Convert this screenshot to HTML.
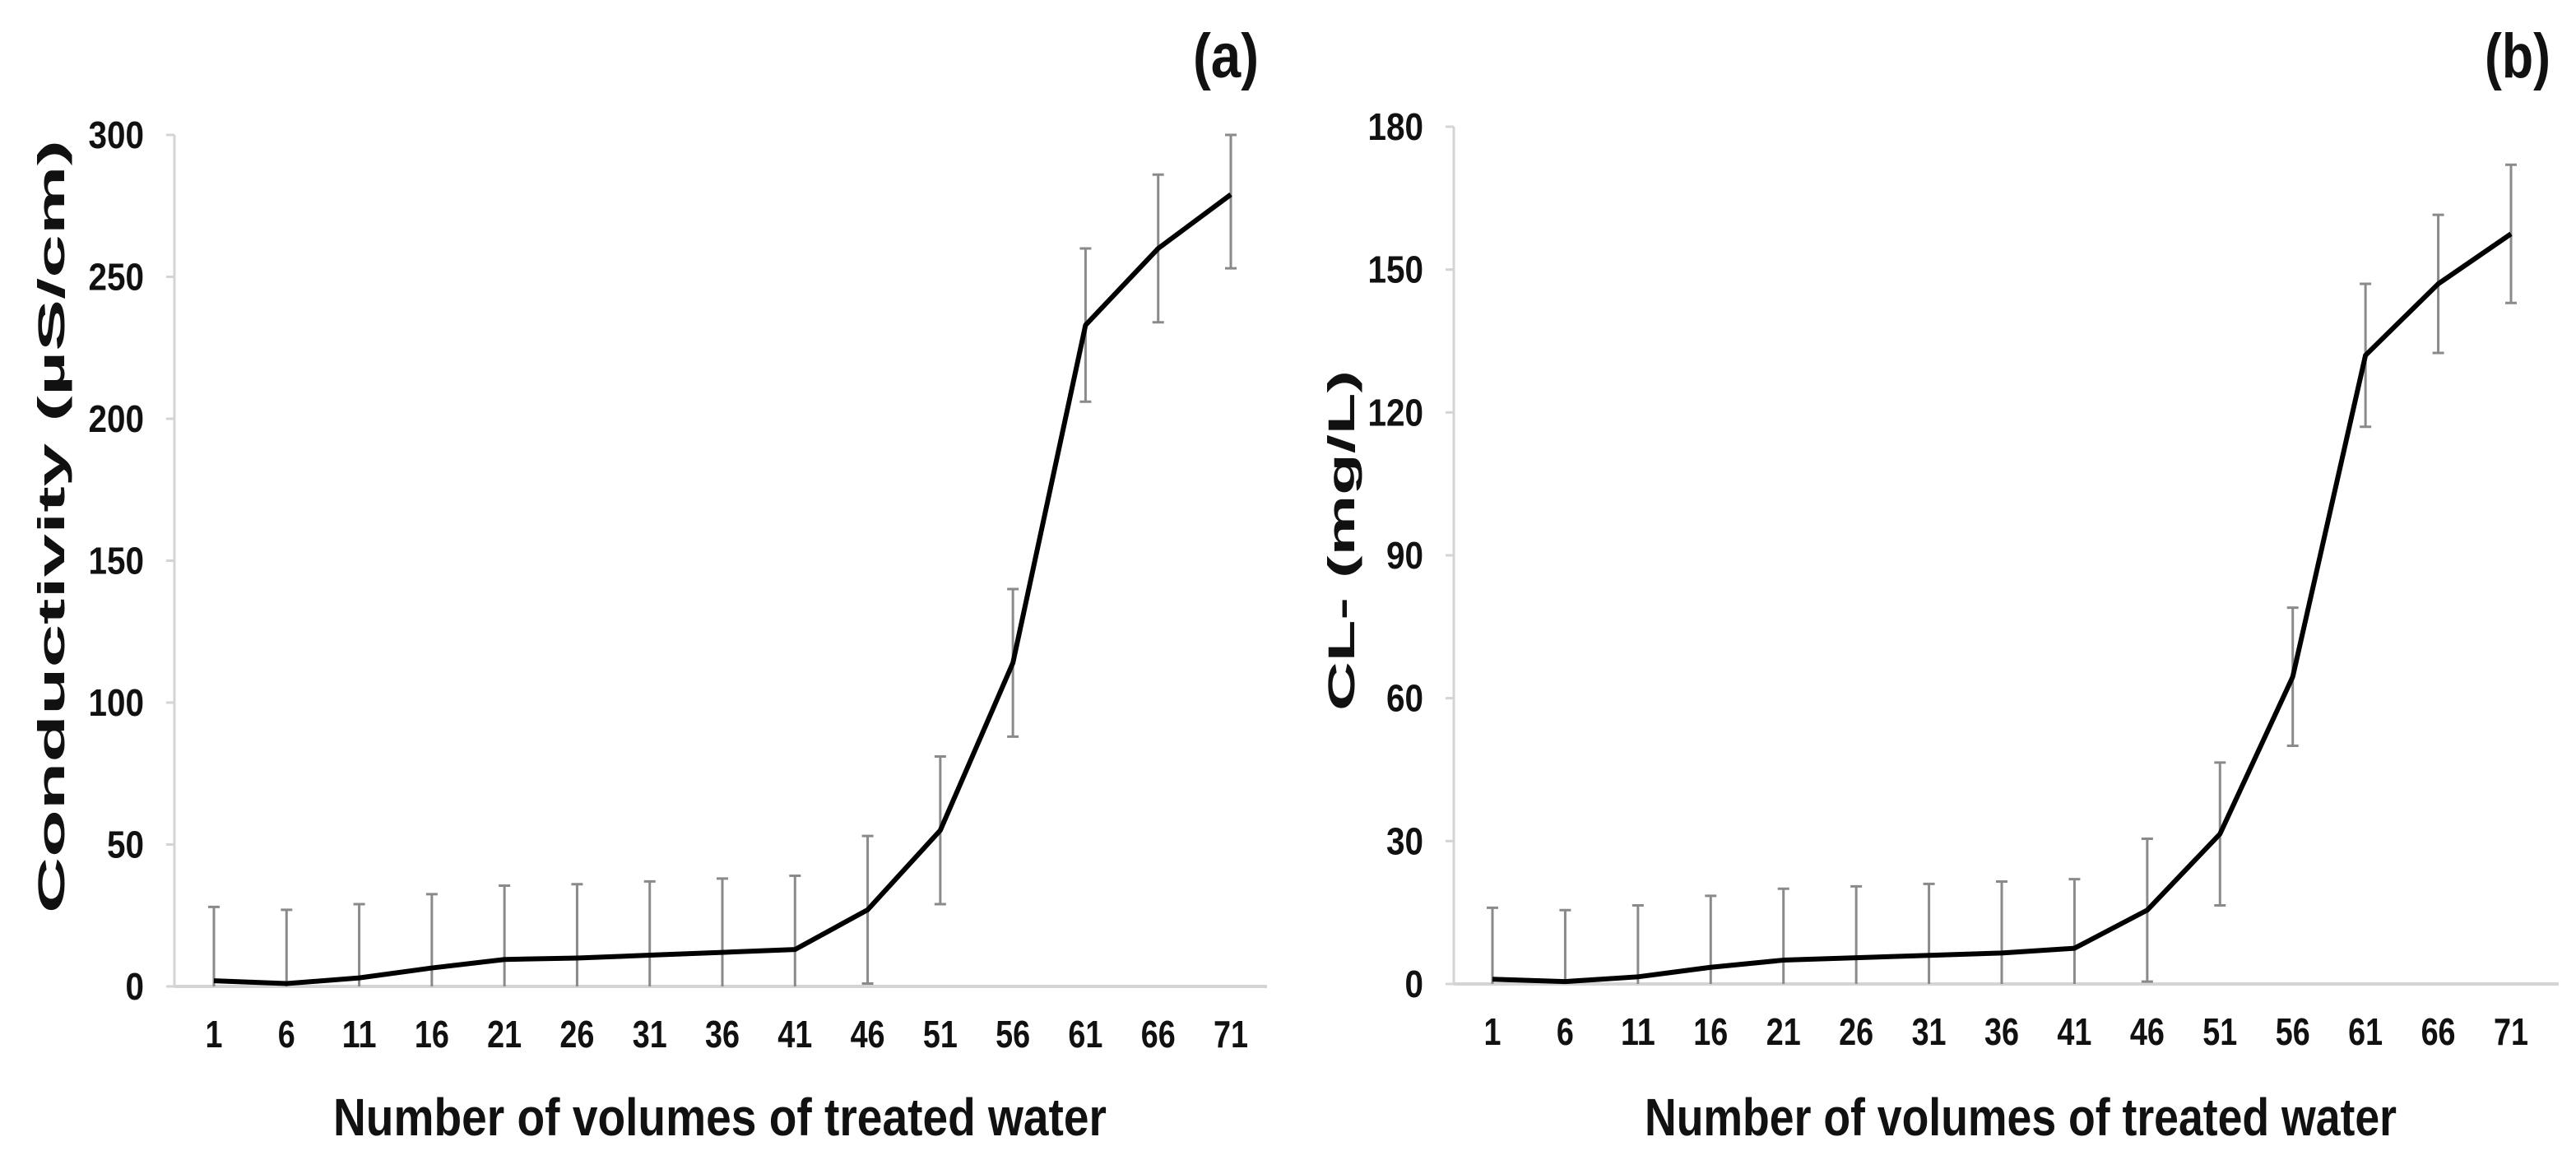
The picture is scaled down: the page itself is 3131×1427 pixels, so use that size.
<!DOCTYPE html>
<html><head><meta charset="utf-8"><style>
html,body{margin:0;padding:0;background:#fff;overflow:hidden;}
svg{display:block;}
.tk{font-family:"Liberation Sans",sans-serif;font-weight:bold;font-size:46px;fill:#111;}
.xt{font-family:"Liberation Sans",sans-serif;font-weight:bold;font-size:64px;fill:#111;}
.yt{font-family:"Liberation Sans",sans-serif;font-weight:bold;font-size:76px;fill:#111;}
.pl{font-family:"Liberation Sans",sans-serif;font-weight:bold;font-size:76px;fill:#111;}
</style></head><body>
<svg id="fig" width="3131" height="1427" viewBox="0 0 3131 1427" xmlns="http://www.w3.org/2000/svg"></svg>
<script>
const categories=[1,6,11,16,21,26,31,36,41,46,51,56,61,66,71];
const condValues=[2,1,3,6.5,9.5,10,11,12,13,27,55,114,233,260,279];
const condErr=[26,26,26,26,26,26,26,26,26,26,26,26,27,26,26];
const condTicks=[0,50,100,150,200,250,300];
const clValues=[1,0.5,1.5,3.5,5,5.5,6,6.5,7.5,15.5,31.5,64.5,132,147,157.5];
const clErr=[15,15,15,15,15,15,15,15,14.5,15,15,14.5,15,14.5,14.5];
const clTicks=[0,30,60,90,120,150,180];

const NS="http://www.w3.org/2000/svg";
const svg=document.getElementById('fig');
function mk(tag,attrs,parent,text){const e=document.createElementNS(NS,tag);for(const k in attrs)e.setAttribute(k,attrs[k]);if(text!==undefined)e.textContent=text;(parent||svg).appendChild(e);return e;}

function chart(cfg){
  const g=mk('g',{});
  
  
  const ymax=cfg.ticks[cfg.ticks.length-1];
  const ys=v=>cfg.y0-(v/ymax)*(cfg.y0-cfg.yTop);
  const xs=i=>cfg.x1+i*(cfg.xN-cfg.x1)/(categories.length-1);
  const ya=mk('line',{x1:cfg.ax,y1:cfg.yTop,x2:cfg.ax,y2:cfg.y0,stroke:'#d4d4d4','stroke-width':3},g);
  
  
  const xa=mk('line',{x1:cfg.ax,y1:cfg.y0,x2:cfg.xr,y2:cfg.y0,stroke:'#d4d4d4','stroke-width':4},g);
  
  
  cfg.ticks.forEach(t=>{
    const y=ys(t);
    const tl=mk('line',{x1:cfg.ax-10,y1:y,x2:cfg.ax,y2:y,stroke:'#d4d4d4','stroke-width':3},g);
    
    
    const s=String(t);
    const tx=mk('text',{x:cfg.lblEnd,y:y+16,'text-anchor':'end',class:'tk',textLength:s.length*22.5,lengthAdjust:'spacingAndGlyphs'},g,s);
    
    
  });
  categories.forEach((c,i)=>{
    const s=String(c);
    const tx=mk('text',{x:xs(i),y:cfg.y0+74,'text-anchor':'middle',class:'tk',textLength:s.length*21,lengthAdjust:'spacingAndGlyphs'},g,s);
    
    
  });
  cfg.values.forEach((v,i)=>{
    const x=xs(i);
    const hi=Math.min(v+cfg.err[i],ymax), lo=Math.max(v-cfg.err[i],0);
    const eb=mk('path',{d:`M${x},${ys(hi)}V${ys(lo)}M${x-7},${ys(hi)}H${x+7}`+(v-cfg.err[i]>0?`M${x-7},${ys(lo)}H${x+7}`:''),stroke:'#8a8a8a','stroke-width':3,fill:'none'},g);
    
    
  });
  const d=cfg.values.map((v,i)=>(i?'L':'M')+xs(i)+','+ys(v)).join('');
  const ln=mk('path',{d:d,stroke:'#000','stroke-width':6,fill:'none','stroke-linejoin':'round'},g);
  
  
  const xt=mk('text',{x:cfg.xtx,y:1380,'text-anchor':'middle',class:'xt',textLength:cfg.xtw,lengthAdjust:'spacingAndGlyphs'},g,'Number of volumes of treated water');
  
  
  const yt=mk('text',{x:0,y:27,'text-anchor':'middle',class:'yt',textLength:cfg.ytw,lengthAdjust:'spacingAndGlyphs',transform:`translate(${cfg.ytx},${cfg.yty}) rotate(-90) scale(1,0.6)`},g,cfg.ylabel);
  
  
  const pl=mk('text',{x:cfg.plx,y:94,'text-anchor':'end',class:'pl',textLength:80,lengthAdjust:'spacingAndGlyphs'},g,cfg.panel);
  
  
}
chart({name:'chart-a-conductivity',values:condValues,err:condErr,ticks:condTicks,ax:212,xr:1540,y0:1199,yTop:164,x1:260,xN:1496,lblEnd:175,xtx:875,xtw:940,ytx:62,yty:640,ytw:940,ylabel:'Conductivity (µS/cm)',plx:1530,panel:'(a)'});
chart({name:'chart-b-chloride',values:clValues,err:clErr,ticks:clTicks,ax:1767,xr:3110,y0:1196,yTop:154,x1:1814,xN:3052,lblEnd:1730,xtx:2456,xtw:914,ytx:1630,yty:657,ytw:414,ylabel:'CL- (mg/L)',plx:3100,panel:'(b)'});
</script>
</body></html>
